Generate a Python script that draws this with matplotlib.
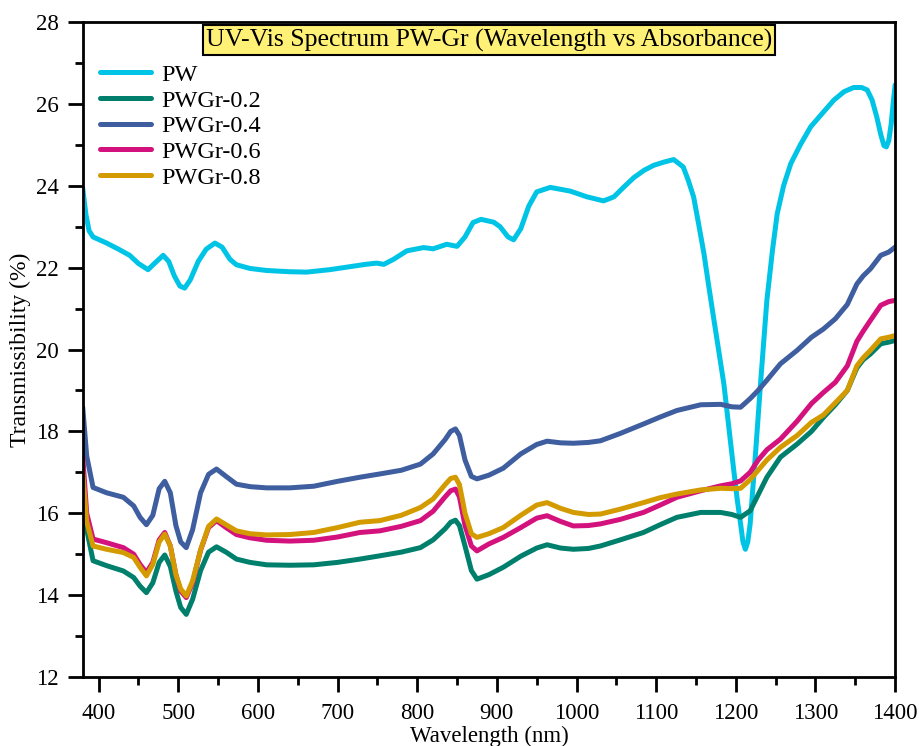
import matplotlib
matplotlib.use("Agg")
import matplotlib.pyplot as plt
from matplotlib.ticker import MultipleLocator

# ---- data ----
pw_x = [380, 384, 388, 393, 410, 425, 439, 450, 462, 470, 481, 488, 495, 502, 508, 515,
        525, 535, 546, 555, 565, 573, 590, 611, 640, 661, 690, 711, 735, 749, 758, 770,
        787, 808, 820, 837, 850, 860, 870, 880, 896, 904, 914, 921, 930, 940, 950, 967,
        992, 1013, 1034, 1047, 1060, 1072, 1085, 1097, 1110, 1122, 1134, 1140, 1147, 1153,
        1160, 1166, 1172, 1185, 1197, 1202, 1206, 1209, 1212, 1215, 1218, 1225, 1231, 1239,
        1246, 1252, 1260, 1269, 1281, 1294, 1310, 1323, 1336, 1348, 1358, 1365, 1371, 1377,
        1382, 1386, 1389, 1392, 1395, 1398, 1400]
pw_y = [23.94, 23.3, 22.9, 22.75, 22.6, 22.45, 22.3, 22.1, 21.95, 22.1, 22.30, 22.15, 21.8,
        21.55, 21.50, 21.7, 22.15, 22.45, 22.60, 22.5, 22.2, 22.07, 21.98, 21.93, 21.90,
        21.89, 21.95, 22.01, 22.08, 22.11, 22.08, 22.2, 22.41, 22.49, 22.46, 22.57, 22.52,
        22.75, 23.1, 23.18, 23.11, 23.0, 22.75, 22.68, 22.95, 23.5, 23.85, 23.96, 23.87,
        23.73, 23.63, 23.73, 23.98, 24.20, 24.38, 24.50, 24.58, 24.64, 24.46, 24.15, 23.73,
        23.1, 22.34, 21.55, 20.79, 19.16, 17.12, 16.3, 15.74, 15.3, 15.12, 15.3, 15.74,
        17.53, 19.16, 21.2, 22.42, 23.32, 24.0, 24.54, 25.0, 25.44, 25.8, 26.09, 26.3, 26.40,
        26.4, 26.34, 26.1, 25.68, 25.25, 24.98, 24.95, 25.1, 25.5, 26.1, 26.46]

gr_x = [380, 385, 393, 410, 431, 444, 452, 460, 468, 476, 483, 490, 497, 503, 510, 518,
        528, 538, 548, 560, 573, 590, 611, 640, 670, 700, 728, 753, 780, 804, 820, 835,
        842, 848, 853, 860, 868, 875, 890, 908, 930, 950, 963, 980, 996, 1015, 1030, 1055,
        1084, 1105, 1126, 1156, 1181, 1195, 1206, 1218, 1228, 1239, 1256, 1277, 1295, 1310,
        1325, 1340, 1352, 1360, 1369, 1382, 1392, 1400]

gr02_y = [16.6, 15.6, 14.84, 14.72, 14.59, 14.43, 14.22, 14.06, 14.3, 14.8, 14.98, 14.7,
          14.1, 13.7, 13.53, 13.9, 14.6, 15.05, 15.18, 15.05, 14.88, 14.8, 14.74, 14.73,
          14.74, 14.8, 14.88, 14.96, 15.05, 15.16, 15.35, 15.62, 15.78, 15.83, 15.7, 15.2,
          14.6, 14.39, 14.5, 14.68, 14.95, 15.15, 15.23, 15.15, 15.12, 15.14, 15.20, 15.35,
          15.53, 15.72, 15.90, 16.02, 16.02, 15.97, 15.90, 16.06, 16.45, 16.88, 17.37, 17.69,
          18.0, 18.34, 18.65, 19.0, 19.55, 19.75, 19.89, 20.14, 20.18, 20.22]
gr04_y = [18.59, 17.4, 16.63, 16.5, 16.39, 16.18, 15.9, 15.72, 15.95, 16.6, 16.78, 16.5,
          15.7, 15.3, 15.16, 15.6, 16.5, 16.95, 17.08, 16.9, 16.71, 16.65, 16.62, 16.62,
          16.66, 16.78, 16.88, 16.96, 17.05, 17.20, 17.45, 17.8, 18.0, 18.06, 17.9, 17.3,
          16.9, 16.84, 16.93, 17.1, 17.45, 17.68, 17.76, 17.72, 17.71, 17.73, 17.77, 17.95,
          18.18, 18.35, 18.51, 18.65, 18.66, 18.6, 18.59, 18.8, 19.0, 19.25, 19.65, 19.98,
          20.3, 20.5, 20.75, 21.1, 21.6, 21.8, 21.97, 22.3, 22.38, 22.5]
gr06_y = [17.4, 16.0, 15.37, 15.28, 15.16, 15.0, 14.75, 14.55, 14.8, 15.35, 15.53, 15.2,
          14.5, 14.1, 13.94, 14.3, 15.1, 15.65, 15.82, 15.65, 15.48, 15.4, 15.34, 15.32,
          15.34, 15.42, 15.53, 15.57, 15.68, 15.82, 16.05, 16.4, 16.55, 16.59, 16.4, 15.7,
          15.2, 15.08, 15.25, 15.41, 15.65, 15.88, 15.94, 15.8, 15.69, 15.7, 15.74, 15.85,
          16.02, 16.2, 16.39, 16.55, 16.67, 16.72, 16.79, 17.0, 17.3, 17.55, 17.81, 18.25,
          18.68, 18.95, 19.2, 19.6, 20.2, 20.45, 20.71, 21.08, 21.17, 21.2]
gr08_y = [17.0, 15.8, 15.20, 15.12, 15.04, 14.92, 14.68, 14.47, 14.75, 15.3, 15.49, 15.2,
          14.5, 14.15, 13.98, 14.35, 15.1, 15.68, 15.86, 15.72, 15.57, 15.5, 15.47, 15.48,
          15.53, 15.65, 15.78, 15.82, 15.95, 16.14, 16.35, 16.7, 16.85, 16.88, 16.7, 16.0,
          15.5, 15.41, 15.5, 15.65, 15.95, 16.2, 16.26, 16.12, 16.02, 15.97, 15.98, 16.1,
          16.26, 16.38, 16.47, 16.57, 16.61, 16.6, 16.61, 16.82, 17.05, 17.3, 17.61, 17.9,
          18.22, 18.4, 18.7, 19.0, 19.6, 19.8, 19.98, 20.26, 20.3, 20.34]

labels = ["PW", "PWGr-0.2", "PWGr-0.4", "PWGr-0.6", "PWGr-0.8"]
colors = ["#00C4E6", "#00806C", "#3E5EA0", "#D3127E", "#D49B00"]

title = "UV-Vis Spectrum PW-Gr (Wavelength vs Absorbance)"
xlabel = "Wavelength (nm)"
ylabel = "Transmissibility (%)"

plt.rcParams['font.family'] = ['Liberation Serif', 'DejaVu Serif']

fig = plt.figure(figsize=(9.19, 7.46), dpi=100)
ax = fig.add_axes([0.090, 0.0925, 0.884, 0.878])

series = [(pw_x, pw_y), (gr_x, gr02_y), (gr_x, gr04_y), (gr_x, gr06_y), (gr_x, gr08_y)]
for (xs, ys), lab, col in zip(series, labels, colors):
    ax.plot(xs, ys, color=col, lw=3.6, label=lab, solid_joinstyle='round',
            solid_capstyle='round')

ax.set_xlim(380, 1400)
ax.set_ylim(12, 28)
ax.xaxis.set_major_locator(MultipleLocator(100))
ax.xaxis.set_minor_locator(MultipleLocator(50))
ax.yaxis.set_major_locator(MultipleLocator(2))
ax.yaxis.set_minor_locator(MultipleLocator(1))
ax.tick_params(which='major', direction='out', length=11, width=2, labelsize=16.5,
               top=False, right=False)
ax.tick_params(axis='x', which='major', pad=8)
ax.tick_params(axis='y', which='major', pad=6)
ax.tick_params(which='minor', direction='out', length=6, width=2, top=False, right=False)
for s in ax.spines.values():
    s.set_linewidth(2)

ax.set_xlabel(xlabel, fontsize=16.5, labelpad=1)
ax.set_ylabel(ylabel, fontsize=17, labelpad=4)

ax.text(0.5, 0.99, title, transform=ax.transAxes, ha='center', va='top', fontsize=18.5,
        bbox=dict(boxstyle='square,pad=0.12', facecolor='#FFF176', edgecolor='black', lw=1.5))

leg = ax.legend(loc='upper left', bbox_to_anchor=(0.0, 0.962), frameon=False, fontsize=17.5,
                handlelength=2.1, handletextpad=0.45, labelspacing=0.15, borderaxespad=0.3)

fig.savefig("out.png", dpi=100)
